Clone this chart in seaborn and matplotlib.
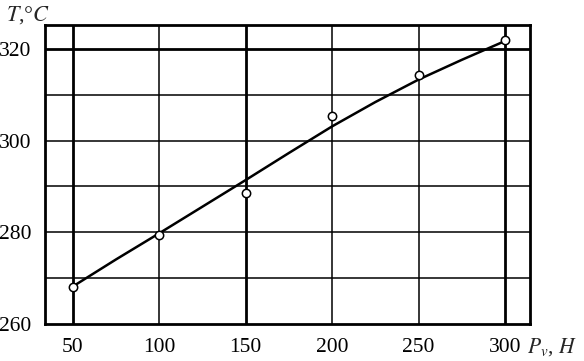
import matplotlib
matplotlib.use("Agg")
import matplotlib.pyplot as plt
import seaborn as sns
import pandas as pd

# measured points (load P_v, N vs temperature T, C)
p_meas = [50, 100, 150, 200, 250, 300]
t_meas = [268.1, 279.4, 288.6, 305.4, 314.4, 322.0]

# smoothed curve
p_fit = [50, 75, 100, 125, 150, 175, 200, 225, 250, 275, 300]
t_fit = [268.2, 274.1, 279.8, 285.6, 291.4, 297.3, 303.1, 308.4, 313.3, 317.6, 321.7]

x_ticks = [50, 100, 150, 200, 250, 300]
y_ticks = [260, 280, 300, 320]

sns.set_style("white")
plt.rcParams["font.family"] = ["Liberation Serif", "DejaVu Serif"]
plt.rcParams["mathtext.fontset"] = "stix"

fig = plt.figure(figsize=(5.84, 3.61), dpi=100)
ax = fig.add_axes([0.077, 0.1025, 0.8305, 0.8282])

# grid: some lines drawn heavier like the scanned original
for xv in [50, 100, 150, 200, 250, 300]:
    lw = 2.0 if xv in (50, 150, 300) else 1.1
    ax.axvline(xv, color="black", lw=lw, zorder=1)
for yv in [270, 280, 290, 300, 310, 320]:
    lw = 2.0 if yv == 320 else 1.1
    ax.axhline(yv, color="black", lw=lw, zorder=1)

fit_df = pd.DataFrame({"P": p_fit, "T": t_fit})
meas_df = pd.DataFrame({"P": p_meas, "T": t_meas})
sns.lineplot(data=fit_df, x="P", y="T", color="black", lw=1.8, ax=ax, zorder=2)
sns.scatterplot(data=meas_df, x="P", y="T", marker="o", s=36, facecolor="white",
                edgecolor="black", linewidth=1.1, ax=ax, zorder=3)

ax.set_xlim(33.8, 314.5)
ax.set_ylim(260, 325.2)
ax.set_xticks(x_ticks)
ax.set_yticks(y_ticks)
ax.tick_params(length=0, labelsize=15.5, colors="black")
ax.tick_params(axis="x", pad=10)
ax.tick_params(axis="y", pad=10)
ax.set_xlabel("")
ax.set_ylabel("")
for s in ax.spines.values():
    s.set_color("black")
    s.set_linewidth(2)

fig.text(0.010, 0.988, r"$T$,°$C$", fontsize=16, ha="left", va="top")
fig.text(0.902, 0.040, r"$P_v$, $H$", fontsize=15.5, ha="left", va="center")

fig.savefig("out.png", dpi=100)
